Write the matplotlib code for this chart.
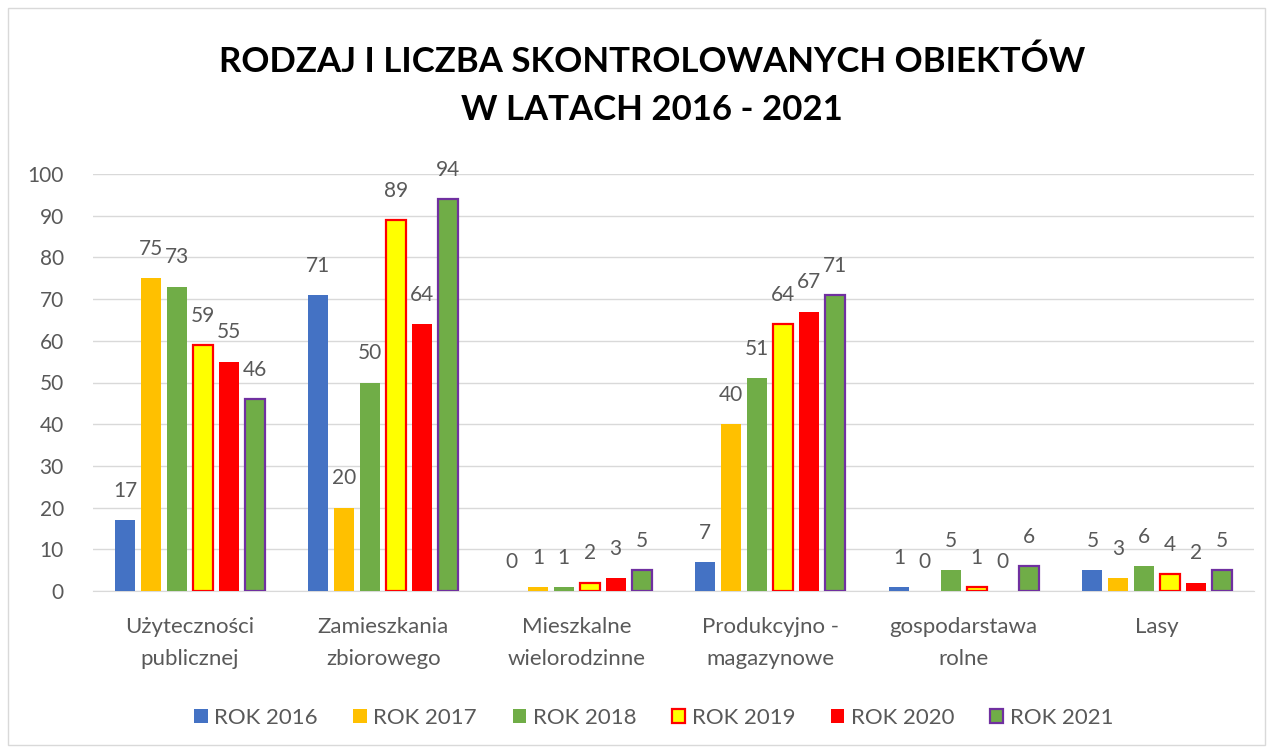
import numpy as np
import matplotlib.pyplot as plt
from matplotlib.patches import Rectangle

plt.rcParams['font.family'] = ['Lato', 'DejaVu Sans']

categories = ['Użyteczności\npublicznej', 'Zamieszkania\nzbiorowego', 'Mieszkalne\nwielorodzinne',
              'Produkcyjno -\nmagazynowe', 'gospodarstawa\nrolne', 'Lasy']
years = ['ROK 2016', 'ROK 2017', 'ROK 2018', 'ROK 2019', 'ROK 2020', 'ROK 2021']
v2016 = [17, 71, 0, 7, 1, 5]
v2017 = [75, 20, 1, 40, 0, 3]
v2018 = [73, 50, 1, 51, 5, 6]
v2019 = [59, 89, 2, 64, 1, 4]
v2020 = [55, 64, 3, 67, 0, 2]
v2021 = [46, 94, 5, 71, 6, 5]
series = [v2016, v2017, v2018, v2019, v2020, v2021]

faces = ['#4472C4', '#FFC000', '#70AD47', '#FFFF00', '#FF0000', '#70AD47']
edges = ['#4472C4', '#FFC000', '#70AD47', '#FF0000', '#FF0000', '#7030A0']
lws = [0, 0, 0, 1.6, 0, 1.6]

fig = plt.figure(figsize=(12.73, 7.51), dpi=100)
ax = fig.add_axes([93 / 1273, 1 - 591 / 751, (1254 - 93) / 1273, (591 - 174) / 751])

x = np.arange(len(categories))
pitch = 0.134
w = 0.104
for i, vals in enumerate(series):
    pos = x + (i - 2.5) * pitch
    ax.bar(pos, vals, width=w, color=faces[i], edgecolor=edges[i], linewidth=lws[i],
           label=years[i], zorder=3)
    for p, v in zip(pos, vals):
        ax.text(p, v + 4.6, str(v), ha='center', va='bottom', fontsize=15, color='#595959')

ax.set_xlim(-0.5, len(categories) - 0.5)
ax.set_ylim(0, 100)
ax.set_yticks(range(0, 101, 10))
ax.set_xticks(x)
ax.set_xticklabels(categories, fontsize=16, color='#595959', linespacing=1.7)
ax.tick_params(axis='y', labelsize=15, labelcolor='#595959', length=0, pad=21)
ax.tick_params(axis='x', length=0, pad=19)
ax.grid(axis='y', color='#D9D9D9', linewidth=1, zorder=0)
for s in ['top', 'right', 'left']:
    ax.spines[s].set_visible(False)
ax.spines['bottom'].set_color('#D9D9D9')

fig.text(0.512, 1 - 86 / 751, 'RODZAJ I LICZBA SKONTROLOWANYCH OBIEKTÓW\nW LATACH 2016 - 2021',
         ha='center', va='center', fontsize=25, fontweight='bold', color='black', linespacing=1.6)

ax.legend(loc='center', bbox_to_anchor=(0.483, (591 - 718) / (591 - 174)), ncol=6, frameon=False,
          fontsize=16, labelcolor='#595959', handlelength=0.6, handleheight=0.6,
          columnspacing=1.6, handletextpad=0.3)

fig.patches.append(Rectangle((8 / 1273, 6 / 751), 1257 / 1273, 737 / 751, transform=fig.transFigure,
                             fill=False, edgecolor='#D9D9D9', linewidth=1))

fig.savefig('out.png', dpi=100)
